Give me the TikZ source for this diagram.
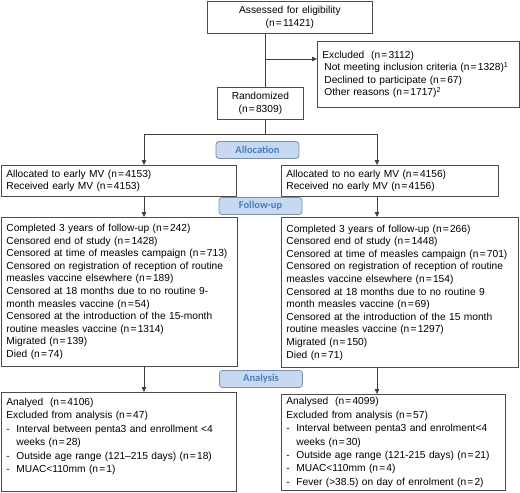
\documentclass[tikz,border=0pt]{standalone}
\usepackage{fontspec}
\setmainfont{Liberation Sans}
\newfontfamily\tagfont{Carlito}
\usetikzlibrary{arrows.meta}
\definecolor{tagfill}{HTML}{C6D9F1}
\definecolor{tagline}{HTML}{7A8FB0}
\definecolor{tagtext}{HTML}{4A7EBB}
\newcommand{\nn}[1]{(n\kern1.2pt=\kern1.2pt#1)}
\newcommand{\dashitem}{\makebox[10pt][l]{-}}
\newcommand{\contitem}{\hspace*{10pt}}
\tikzset{
  box/.style={draw=black!70, line width=.8pt, anchor=north west, align=left,
    inner xsep=5pt, inner ysep=3pt, font=\fontsize{10.2}{12.6}\selectfont},
  stagetag/.style={draw=tagline, fill=tagfill, rounded corners=3pt, line width=.8pt,
    minimum width=83, minimum height=17, inner sep=0pt,
    font=\tagfont\bfseries\fontsize{10.5}{12}\selectfont, text=tagtext},
  arr/.style={-{Triangle[length=5pt,width=4.5pt]}, line width=.8pt, draw=black!75},
  link/.style={line width=.8pt, draw=black!75}
}
\begin{document}
\begin{tikzpicture}[x=1pt,y=-1pt]
    \useasboundingbox (0,0) rectangle (520,493);
    % enrolment
    \node[box, align=center, text width=155, minimum height=32] (assess) at (207,1)
        {Assessed for eligibility\\\nn{11421}};
    \node[box, text width=192, minimum height=66] (excl) at (317,41)
        {Excluded\ \ \nn{3112}\\
         \hspace*{2pt}Not meeting inclusion criteria \nn{1328}\textsuperscript{1}\\
         \hspace*{2pt}Declined to participate \nn{67}\\
         \hspace*{2pt}Other reasons \nn{1717}\textsuperscript{2}};
    \node[box, align=center, text width=76, minimum height=32] (rand) at (217,87)
        {Randomized\\\nn{8309}};
    \coordinate (split) at (265,59);
    \coordinate (fork) at (265,134);
    \coordinate (lft) at (144,134);
    \coordinate (rgt) at (377,134);
    \draw[link] (assess.south -| split) -- (rand.north -| split);
    \draw[arr] (split) -- (split -| excl.west);
    \draw[link] (rand.south -| fork) -- (fork);
    \draw[link] (lft) -- (rgt);

    % allocation
    \node[stagetag] (tagalloc) at (257.5,150) {Allocation};
    \node[box, text width=225, minimum height=31] (allocL) at (1,165)
        {Allocated to early MV \nn{4153}\\Received early MV \nn{4153}};
    \node[box, text width=207, minimum height=31] (allocR) at (281,165)
        {Allocated to no early MV \nn{4156}\\Received no early MV \nn{4156}};
    \draw[arr] (lft) -- (lft |- allocL.north);
    \draw[arr] (rgt) -- (rgt |- allocR.north);

    % follow-up
    \node[stagetag] (tagfollow) at (260.5,206) {Follow-up};
    \node[box, text width=226, minimum height=149] (followL) at (1,217)
        {Completed 3 years of follow-up \nn{242}\\
         Censored end of study \nn{1428}\\
         Censored at time of measles campaign \nn{713}\\
         Censored on registration of reception of routine\\
         measles vaccine elsewhere \nn{189}\\
         Censored at 18 months due to no routine 9-\\
         month measles vaccine \nn{54}\\
         Censored at the introduction of the 15-month\\
         routine measles vaccine \nn{1314}\\
         Migrated \nn{139}\\
         Died \nn{74}};
    \node[box, text width=227, minimum height=150] (followR) at (281,217)
        {Completed 3 years of follow-up \nn{266}\\
         Censored end of study \nn{1448}\\
         Censored at time of measles campaign \nn{701}\\
         Censored on registration of reception of routine\\
         measles vaccine elsewhere \nn{154}\\
         Censored at 18 months due to no routine 9\\
         month measles vaccine \nn{69}\\
         Censored at the introduction of the 15 month\\
         routine measles vaccine \nn{1297}\\
         Migrated \nn{150}\\
         Died \nn{71}};
    \draw[arr] (allocL.south -| lft) -- (followL.north -| lft);
    \draw[arr] (allocR.south -| rgt) -- (followR.north -| rgt);

    % analysis
    \node[stagetag] (taganalysis) at (261,379) {Analysis};
    \node[box, text width=225, minimum height=99,
          font=\fontsize{10.2}{13.4}\selectfont] (analL) at (1,392)
        {Analyed\ \ \nn{4106}\\
         Excluded from analysis \nn{47}\\
         \dashitem Interval between penta3 and enrollment <4\\
         \contitem weeks \nn{28}\\
         \dashitem Outside age range (121--215 days) \nn{18}\\
         \dashitem MUAC<110mm \nn{1}\\
         ~};
    \node[box, text width=214, minimum height=96,
          font=\fontsize{10.2}{13.4}\selectfont] (analR) at (281,394)
        {Analysed\ \ \nn{4099}\\
         Excluded from analysis \nn{57}\\
         \dashitem Interval between penta3 and enrolment<4\\
         \contitem weeks \nn{30}\\
         \dashitem Outside age range (121-215 days) \nn{21}\\
         \dashitem MUAC<110mm \nn{4}\\
         \dashitem Fever (>38.5) on day of enrolment \nn{2}};
    \draw[arr] (followL.south -| lft) -- (analL.north -| lft);
    \draw[arr] (followR.south -| rgt) -- (analR.north -| rgt);
\end{tikzpicture}
\end{document}
